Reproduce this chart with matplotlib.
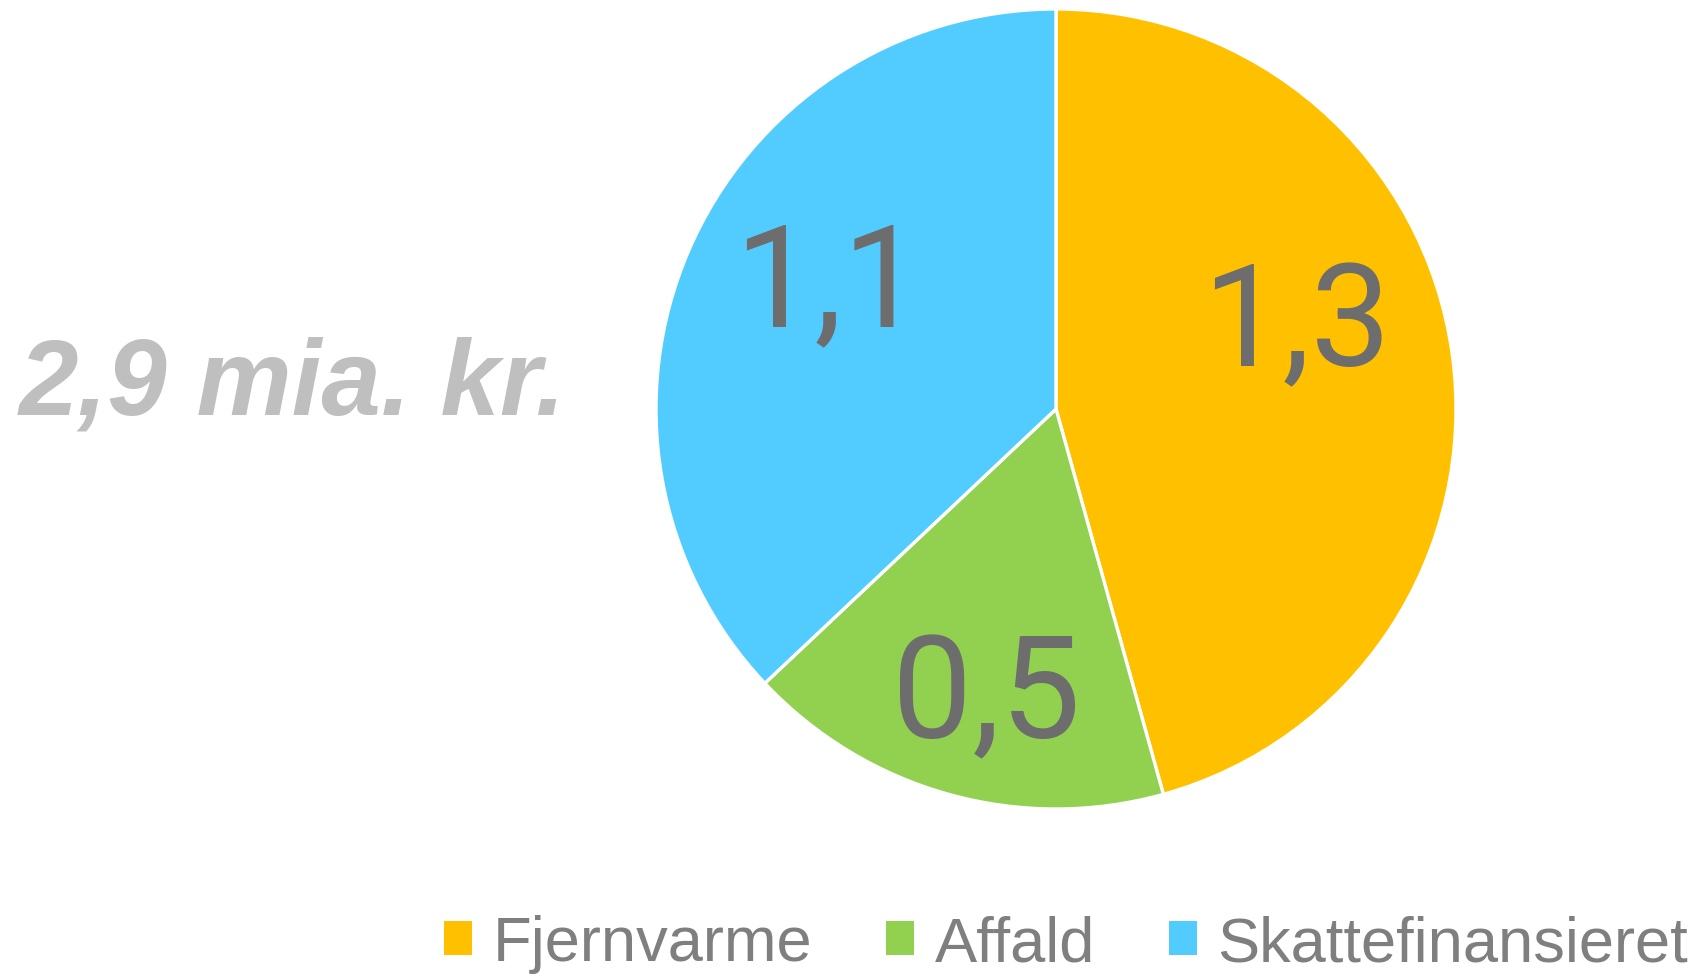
import matplotlib
matplotlib.use("Agg")
import matplotlib.pyplot as plt
from matplotlib.patches import Patch

categories = ["Fjernvarme", "Affald", "Skattefinansieret"]
values = [1.32, 0.50, 1.07]
value_labels = ["1,3", "0,5", "1,1"]
colors = ["#FFC000", "#92D050", "#52CCFF"]
total_label = "2,9 mia. kr."

plt.rcParams['font.family'] = ['Liberation Sans', 'DejaVu Sans']

fig = plt.figure(figsize=(17.04, 9.79), dpi=100)
ax = fig.add_axes([656/1704, 1 - 810/979, 800/1704, 800/979])
wedges, _ = ax.pie(values, colors=colors, startangle=90, counterclock=False,
                   radius=1.0, wedgeprops=dict(edgecolor="white", linewidth=2.4))
ax.set_xlim(-1, 1)
ax.set_ylim(-1, 1)
ax.set_aspect('equal')
ax.axis('off')

label_pos = [(0.60, 0.11), (-0.175, -0.82), (-0.568, 0.21)]
for (x, y), t in zip(label_pos, value_labels):
    ax.text(x, y, t, ha='center', va='baseline', fontsize=103, color="#6D6D6D",
            family=['Roboto', 'Liberation Sans', 'DejaVu Sans'])

fig.text(292/1704, 1 - 415/979, total_label, ha='center', va='baseline',
         fontsize=77, fontweight='bold', fontstyle='italic', color="#BFBFBF")

handles = [Patch(facecolor=c, edgecolor='none') for c in colors]
leg = fig.legend(handles, categories, ncol=3, loc='center',
                 bbox_to_anchor=(1066/1704, 1 - 945/979), frameon=False,
                 fontsize=45.5, handlelength=0.45, handleheight=0.45,
                 handletextpad=0.32, columnspacing=1.17, borderpad=0,
                 labelcolor="#7F7F7F")

fig.savefig("out.png", dpi=100)
